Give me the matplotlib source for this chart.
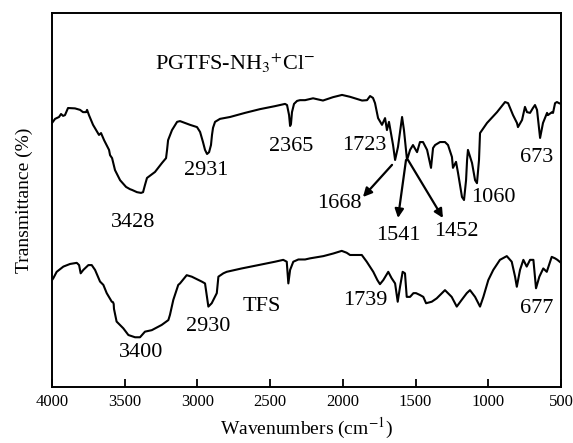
import matplotlib
matplotlib.use('Agg')
import matplotlib.pyplot as plt

plt.rcParams['font.family'] = ['Liberation Serif', 'DejaVu Serif']
plt.rcParams['mathtext.fontset'] = 'stix'

# PGTFS-NH3+Cl- spectrum (wavenumber cm-1, transmittance, arbitrary %)
pgtfs_wn = [4000, 3979, 3952, 3938, 3924, 3911, 3890, 3842, 3807, 3787, 3766, 3759, 3746,
            3718, 3697, 3677, 3663, 3642, 3608, 3601, 3587, 3567, 3532, 3491, 3464, 3450,
            3416, 3388, 3374, 3361, 3347, 3292, 3244, 3216, 3209, 3202, 3175, 3140, 3120,
            3085, 3051, 3003, 2982, 2962, 2948, 2934, 2920, 2907, 2900, 2893, 2879, 2845,
            2776, 2673, 2570, 2467, 2398, 2384, 2370, 2363, 2357, 2350, 2336, 2315, 2295,
            2260, 2205, 2137, 2068, 2006, 1951, 1868, 1834, 1813, 1793, 1779, 1758, 1731,
            1710, 1697, 1683, 1655, 1641, 1621, 1593, 1580, 1559, 1538, 1518, 1490, 1470,
            1449, 1421, 1394, 1380, 1366, 1332, 1298, 1277, 1250, 1243, 1222, 1208, 1181,
            1167, 1153, 1146, 1140, 1112, 1091, 1078, 1064, 1057, 1009, 940, 885, 864, 830,
            803, 796, 768, 748, 734, 713, 693, 679, 665, 644, 624, 596, 590, 562, 555, 541,
            528, 514, 500]
pgtfs_t = [70.6, 71.7, 72.2, 73.0, 72.5, 72.7, 74.6, 74.5, 74.1, 73.5, 73.5, 74.1, 72.7,
           70.1, 68.7, 67.4, 67.9, 66.0, 63.4, 62.0, 61.2, 58.0, 55.3, 53.5, 52.9, 52.7,
           52.1, 51.9, 52.1, 54.0, 55.9, 57.5, 59.9, 61.2, 63.4, 66.0, 68.7, 70.9, 71.1,
           70.6, 70.1, 69.5, 68.2, 65.5, 63.4, 62.3, 62.8, 64.7, 67.4, 69.3, 70.9, 71.7,
           72.2, 73.3, 74.3, 75.1, 75.7, 75.4, 72.7, 69.8, 70.3, 73.5, 75.7, 76.5, 76.7,
           76.7, 77.2, 76.6, 77.5, 78.1, 77.6, 76.6, 76.7, 77.8, 77.3, 75.9, 71.9, 70.1,
           71.9, 68.7, 70.9, 64.7, 60.7, 64.2, 72.2, 68.7, 60.7, 63.4, 64.7, 62.8, 65.5,
           65.5, 63.4, 58.6, 63.9, 64.7, 65.5, 65.5, 64.7, 61.5, 58.6, 60.2, 57.2, 50.8,
           50.0, 55.3, 60.7, 63.4, 59.9, 55.3, 54.5, 60.7, 67.9, 70.6, 73.5, 76.2, 75.9, 72.7,
           70.6, 69.5, 71.4, 74.9, 73.5, 73.3, 74.6, 75.4, 74.1, 66.6, 70.6, 73.3, 72.7, 73.5,
           73.3, 75.9, 76.2, 75.9, 75.7]

# TFS spectrum
tfs_wn = [4000, 3991, 3968, 3922, 3876, 3830, 3814, 3803, 3785, 3750, 3727, 3704, 3670,
          3647, 3624, 3589, 3581, 3576, 3574, 3556, 3510, 3475, 3429, 3395, 3361, 3314,
          3246, 3200, 3189, 3166, 3132, 3120, 3074, 3039, 2971, 2948, 2925, 2902, 2867,
          2856, 2822, 2799, 2696, 2581, 2467, 2410, 2386, 2375, 2363, 2341, 2306, 2260,
          2226, 2134, 2066, 2008, 1974, 1951, 1917, 1870, 1836, 1791, 1763, 1745, 1722,
          1688, 1665, 1641, 1623, 1607, 1589, 1573, 1561, 1538, 1515, 1497, 1470, 1447,
          1428, 1389, 1355, 1298, 1252, 1217, 1183, 1148, 1126, 1091, 1057, 1034, 1000,
          966, 920, 873, 839, 816, 804, 782, 759, 736, 713, 690, 672, 649, 622, 598, 564,
          541, 525, 500]
tfs_t = [28.6, 29.1, 30.8, 32.2, 32.9, 33.2, 32.6, 30.4, 31.3, 32.6, 32.6, 31.3, 28.2,
         27.3, 25.1, 22.8, 22.7, 22.2, 20.9, 17.5, 15.7, 13.9, 13.3, 13.3, 14.8, 15.2,
         16.6, 17.9, 19.3, 23.3, 27.3, 27.7, 29.9, 29.5, 28.2, 27.7, 21.5, 22.4, 25.1,
         29.5, 30.4, 30.8, 31.7, 32.6, 33.5, 34.0, 33.5, 27.7, 31.3, 33.5, 34.1, 34.1,
         34.4, 35.0, 35.7, 36.4, 35.9, 35.3, 35.3, 35.3, 33.5, 30.8, 28.6, 27.5, 28.6,
         30.8, 29.1, 27.7, 22.8, 26.8, 30.8, 30.4, 24.1, 24.1, 25.1, 25.1, 24.6, 24.1,
         22.4, 22.8, 23.7, 25.9, 24.1, 21.5, 23.3, 25.1, 25.9, 24.1, 21.5, 24.1, 28.6,
         31.3, 34.0, 35.0, 33.5, 29.5, 26.8, 31.3, 34.0, 32.2, 34.0, 34.0, 26.4, 29.5, 31.7,
         30.8, 34.8, 34.4, 34.0, 33.2]

# peak labels: text, wavenumber, transmittance
peak_labels = [('3428', 3443, 43.9), ('2931', 2941, 58.0), ('2365', 2357, 64.2),
               ('1723', 1855, 64.7), ('673', 665, 61.5), ('1060', 968, 50.8),
               ('1668', 2023, 49.2), ('1541', 1621, 40.6), ('1452', 1222, 41.7),
               ('3400', 3388, 9.1), ('2930', 2927, 16.3), ('1739', 1848, 23.0),
               ('677', 665, 21.1)]
# arrows from band to label: (tail, head)
arrows = [((1662, 59.4), (1862, 50.8)),
          ((1566, 60.7), (1621, 45.2)),
          ((1552, 60.7), (1312, 45.2))]

fig = plt.figure(figsize=(5.73, 4.43), dpi=100)
ax = fig.add_axes([0.0908, 0.1264, 0.8883, 0.8442])

ax.plot(pgtfs_wn, pgtfs_t, color='black', lw=1.5)
ax.plot(tfs_wn, tfs_t, color='black', lw=1.5)

for txt, x, y in peak_labels:
    ax.text(x, y, txt, fontsize=16, ha='center', va='center')

for tail, head in arrows:
    ax.annotate('', xy=head, xytext=tail,
                arrowprops=dict(arrowstyle='-|>', color='black', lw=1.6,
                                mutation_scale=13, shrinkA=0, shrinkB=0))

ax.text(3292, 86.6, r'PGTFS-NH$_{3}$$^{+}$Cl$^{-}$', fontsize=16, ha='left', va='center')
ax.text(2556, 21.4, 'TFS', fontsize=16, ha='center', va='center')

ax.set_xlim(4000, 500)
ax.set_ylim(0, 100)
ax.set_xticks([4000, 3500, 3000, 2500, 2000, 1500, 1000, 500])
ax.set_yticks([])
ax.tick_params(axis='x', direction='in', length=6, width=1.3, labelsize=12, pad=5)
for sp in ax.spines.values():
    sp.set_linewidth(1.4)

ax.set_xlabel(r'Wavenumbers (cm$^{-1}$)', fontsize=14, labelpad=4)
ax.set_ylabel('Transmittance (%)', fontsize=14, labelpad=14)

fig.savefig('out.png', dpi=100)
